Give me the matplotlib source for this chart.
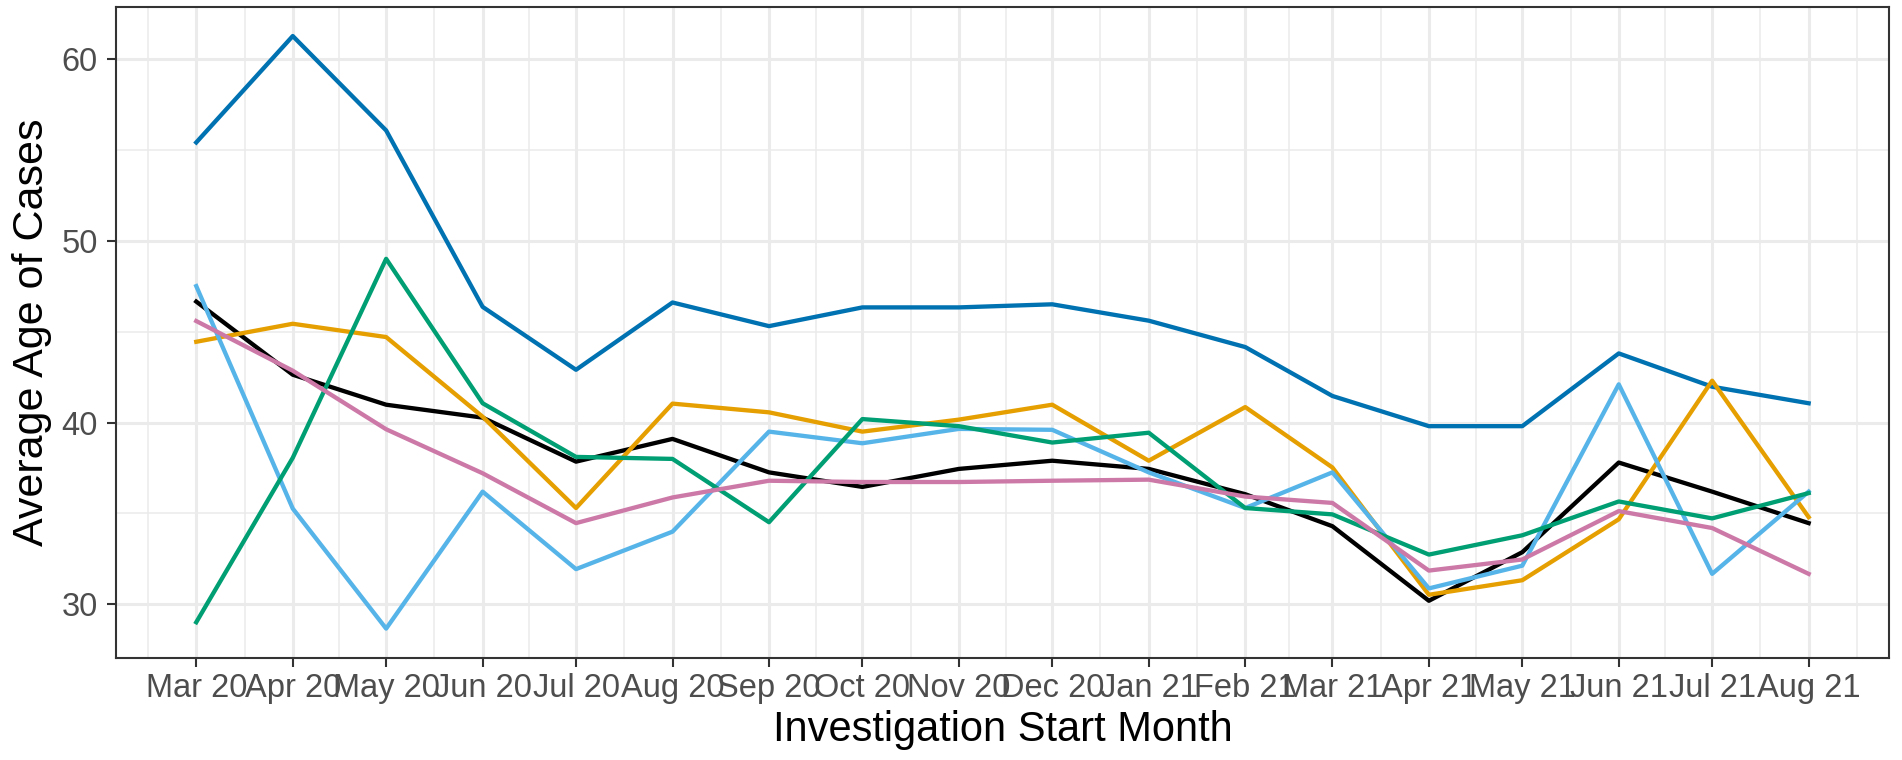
import matplotlib
matplotlib.use('Agg')
import matplotlib.pyplot as plt
import matplotlib.dates as mdates
import numpy as np
import pandas as pd

plt.rcParams['font.family'] = ['Liberation Sans', 'DejaVu Sans']

# monthly investigation start dates
months = pd.date_range('2020-03-01', '2021-08-01', freq='MS')

# average age of cases per group
overall = [46.65, 42.63, 40.98, 40.27, 37.85, 39.1, 37.26, 36.46, 37.45, 37.9, 37.45, 36.06,
           34.3, 30.2, 32.87, 37.8, 36.2, 34.47]
group_dblue = [55.4, 61.25, 56.06, 46.36, 42.9, 46.6, 45.3, 46.33, 46.33, 46.5, 45.6, 44.15,
               41.46, 39.8, 39.8, 43.8, 41.97, 41.06]
group_orange = [44.44, 45.43, 44.7, 40.32, 35.3, 41.04, 40.56, 39.5, 40.16, 40.98, 37.9, 40.85,
                37.53, 30.53, 31.33, 34.68, 42.3, 34.8]
group_lblue = [47.5, 35.27, 28.67, 36.2, 31.94, 34.0, 39.5, 38.86, 39.65, 39.6, 37.26, 35.3,
               37.26, 30.88, 32.13, 42.1, 31.68, 36.2]
group_green = [29.02, 38.06, 49.0, 41.06, 38.11, 38.0, 34.52, 40.19, 39.8, 38.9, 39.44, 35.3,
               34.95, 32.74, 33.8, 35.66, 34.73, 36.12]
group_pink = [45.58, 42.85, 39.63, 37.21, 34.47, 35.88, 36.8, 36.73, 36.73, 36.8, 36.86, 35.93,
              35.58, 31.86, 32.47, 35.13, 34.2, 31.68]

series = [
    (group_dblue, '#0072B2'),
    (overall, '#000000'),
    (group_orange, '#E69F00'),
    (group_lblue, '#56B4E9'),
    (group_green, '#009E73'),
    (group_pink, '#CC79A7'),
]

fig = plt.figure(figsize=(19.02, 7.6), dpi=100)
ax = fig.add_axes([0.0608, 0.1346, 0.9325, 0.8558])

x = mdates.date2num(months.to_pydatetime())
for vals, col in series:
    ax.plot(x, vals, color=col, linewidth=3.1, solid_joinstyle='round', zorder=3)

# ggplot-like 5% expansion
span = x[-1] - x[0]
ax.set_xlim(x[0] - 0.05 * span, x[-1] + 0.05 * span)
ax.set_ylim(27.07, 62.83)

ax.set_xticks(x)
ax.set_xticklabels(months.strftime('%b %y'))
mids = (x[:-1] + x[1:]) / 2
minor_x = np.concatenate([[x[0] - (x[1] - x[0]) / 2], mids, [x[-1] + (x[-1] - x[-2]) / 2]])
ax.set_xticks(minor_x, minor=True)
ax.set_yticks([30, 40, 50, 60])
ax.set_yticks([35, 45, 55], minor=True)

ax.grid(which='major', color='#EBEBEB', linewidth=2.2, zorder=0)
ax.grid(which='minor', color='#EBEBEB', linewidth=1.1, zorder=0)
ax.set_axisbelow(True)

for s in ax.spines.values():
    s.set_color('#333333')
    s.set_linewidth(1.5)

ax.tick_params(which='major', length=6.3, width=1.5, color='#333333',
               labelsize=23.5, labelcolor='#4D4D4D')
ax.tick_params(axis='x', which='major', pad=5)
ax.tick_params(axis='y', which='major', pad=6.5)
ax.tick_params(which='minor', length=0)

ax.set_xlabel('Investigation Start Month', fontsize=30, color='black', labelpad=4)
ax.set_ylabel('Average Age of Cases', fontsize=31, color='black', labelpad=7)

fig.savefig('out.png', dpi=100)
